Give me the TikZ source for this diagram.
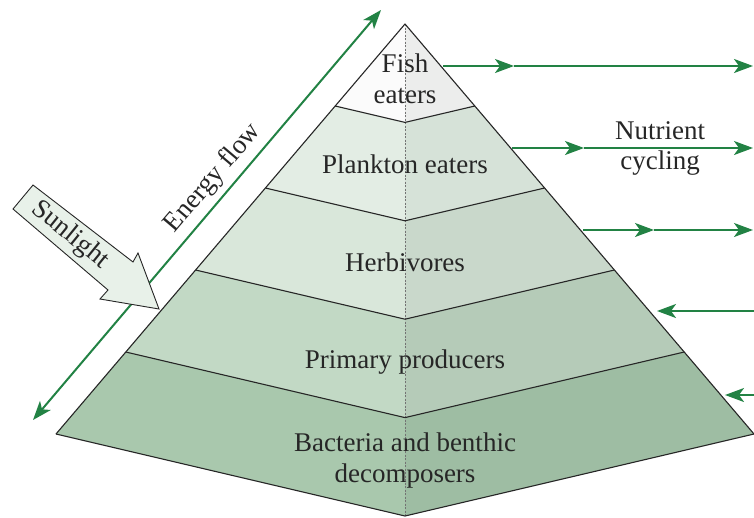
\documentclass[tikz,border=0pt]{standalone}
\usepackage{fontspec}
\setmainfont{Liberation Serif}
\usetikzlibrary{arrows.meta}

\definecolor{flowgreen}{RGB}{34,130,68}
\definecolor{fishL}{RGB}{251,251,251}
\definecolor{fishR}{RGB}{236,237,236}
\definecolor{plankL}{RGB}{227,237,228}
\definecolor{plankR}{RGB}{214,226,216}
\definecolor{herbL}{RGB}{217,231,218}
\definecolor{herbR}{RGB}{201,216,203}
\definecolor{primL}{RGB}{194,217,197}
\definecolor{primR}{RGB}{181,203,184}
\definecolor{bactL}{RGB}{169,200,173}
\definecolor{bactR}{RGB}{158,189,163}
\definecolor{sunfill}{RGB}{232,241,233}

\begin{document}
\begin{tikzpicture}[x=1pt, y=-1pt,
    edge/.style={draw=black!85, line width=1.1pt, line join=round},
    axis/.style={draw=black!55, line width=0.6pt, dash pattern=on 2pt off 1.5pt},
    flow/.style={draw=flowgreen, line width=2pt},
    greentip/.style={-{Stealth[length=19pt, width=14pt, inset=5pt]}},
    bothtips/.style={{Stealth[length=19pt, width=14pt, inset=5pt]}-{Stealth[length=19pt, width=14pt, inset=5pt]}},
    lbl/.style={font=\fontsize{27}{31}\selectfont, align=center, text=black!85, inner sep=0pt},
  ]
  \useasboundingbox (0,0) rectangle (754,517);

  % corners of the layer boundaries
  \foreach \i in {0,...,5} {
    \coordinate (l\i) at ({405-349*\i/5}, {24+410*\i/5});
    \coordinate (c\i) at (405, {24+492*\i/5});
    \coordinate (r\i) at ({405+349*\i/5}, {24+410*\i/5});
  }

  % left and right faces of each layer
  \foreach \j/\i/\cl/\cr in {0/1/fishL/fishR, 1/2/plankL/plankR, 2/3/herbL/herbR, 3/4/primL/primR, 4/5/bactL/bactR} {
    \fill[\cl] (l\j) -- (c\j) -- (c\i) -- (l\i) -- cycle;
    \fill[\cr] (r\j) -- (c\j) -- (c\i) -- (r\i) -- cycle;
  }
  \draw[axis] (c0) -- (c5);
  \foreach \i in {1,...,5}
    \draw[edge] (l\i) -- (c\i) -- (r\i);
  \draw[edge] (l5) -- (c0) -- (r5);

  \node[lbl] (fish) at (405,79) {Fish\\eaters};
  \node[lbl] (plank) at (405,164) {Plankton eaters};
  \node[lbl] (herb) at (405,262) {Herbivores};
  \node[lbl] (prim) at (405,362) {Primary producers};
  \node[lbl] (bact) at (405,460) {Bacteria and benthic\\decomposers};

  % energy flow along the left side
  \coordinate (ebot) at (33,420);
  \coordinate (etop) at (381,10);
  \draw[flow, bothtips] (ebot) -- node[lbl, sloped, pos=0.56, above=6pt] (energy) {Energy flow} (etop);

  % sunlight block arrow
  \coordinate (s1) at (33,185);
  \coordinate (s2) at (133,262);
  \coordinate (s3) at (138,253);
  \coordinate (s4) at (159,309);
  \coordinate (s5) at (100,299);
  \coordinate (s6) at (108,290);
  \coordinate (s7) at (13,209);
  \filldraw[fill=sunfill, draw=black!85, line width=0.9pt] (s1) -- (s2) -- (s3) -- (s4) -- (s5) -- (s6) -- (s7) -- cycle;
  \node[lbl, rotate=-39] (sun) at (70,235) {Sunlight};

  % nutrient cycling
  \foreach \n/\y/\xs/\xm in {1/66/443/514, 2/148/512/584, 3/230/583/654} {
    \coordinate (o\n a) at (\xs,\y);
    \coordinate (o\n b) at (\xm,\y);
    \coordinate (o\n c) at (753,\y);
    \draw[flow, greentip] (o\n a) -- (o\n b);
    \draw[flow, greentip] (o\n b) -- (o\n c);
  }
  \foreach \n/\y/\xt in {4/311/657, 5/395/725} {
    \coordinate (i\n a) at (754,\y);
    \coordinate (i\n b) at (\xt,\y);
    \draw[flow, greentip] (i\n a) -- (i\n b);
  }
  \node[lbl, font=\fontsize{27}{30}\selectfont] (nutrient) at (660,148) {Nutrient\\cycling};
\end{tikzpicture}
\end{document}
